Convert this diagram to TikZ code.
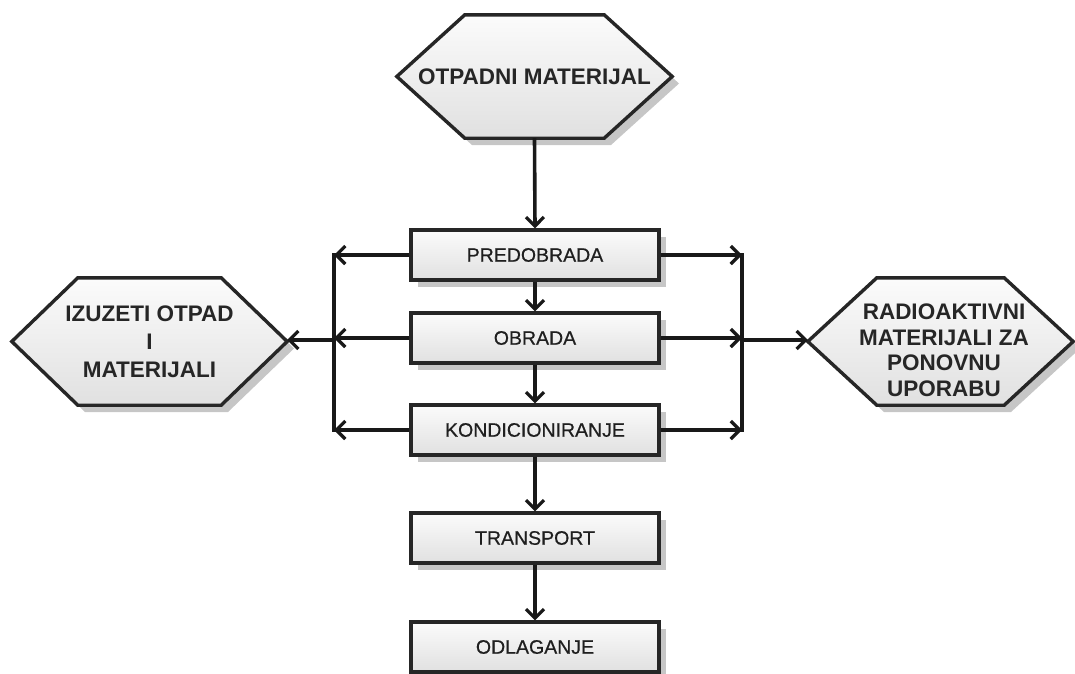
\documentclass[tikz,border=0pt]{standalone}
\usepackage{fontspec}
\setmainfont{Liberation Sans}
\newfontfamily\boxfont{Liberation Sans}[FakeBold=0.6]
\usetikzlibrary{arrows.meta,shadows,backgrounds}
\begin{document}
\begin{tikzpicture}[x=1pt,y=-1pt,
 boxst/.style={draw=black!85, line width=3.4pt, minimum width=248pt, minimum height=50pt,
   top color=gray!3, bottom color=gray!24,
   drop shadow={shadow xshift=7pt, shadow yshift=-7pt, fill=gray!45, opacity=1},
   font=\boxfont\fontsize{19.5}{22}\selectfont, text=black!88, inner sep=0pt},
 hexlab/.style={inner sep=0pt, font=\bfseries\fontsize{22.5}{28}\selectfont, align=center, text=black!85},
 hexline/.style={draw=black!85, line width=3.4pt, top color=gray!3, bottom color=gray!24},
 hexshadow/.style={fill=gray!45, draw=none},
 conn/.style={draw=black!90, line width=3.6pt},
 arr/.style={conn, -{Straight Barb[length=9pt,width=18pt,line width=3.2pt]}}
]
\useasboundingbox (0,0) rectangle (1075,673);

% nodes
\node[hexlab, minimum width=275pt, minimum height=123pt] (otp) at (534.5,76.5) {OTPADNI MATERIJAL};
\node[hexlab, minimum width=275pt, minimum height=127pt] (izu) at (149.5,341.5) {IZUZETI OTPAD\\I\\MATERIJALI};
\node[minimum width=265pt, minimum height=127pt, inner sep=0pt] (rad) at (940.5,341.5) {};
\node[hexlab, font=\bfseries\fontsize{22.5}{25.5}\selectfont] (radt) at (944,350) {RADIOAKTIVNI\\MATERIJALI ZA\\PONOVNU\\UPORABU};

\node[boxst] (pre) at (535,255) {PREDOBRADA};
\node[boxst] (obr) at (535,338) {OBRADA};
\node[boxst] (kon) at (535,430) {KONDICIONIRANJE};
\node[boxst] (tra) at (535,538) {TRANSPORT};
\node[boxst] (odl) at (535,647) {ODLAGANJE};

% hexagons on background
\begin{scope}[on background layer]
 \fill[hexshadow, xshift=7pt, yshift=-7pt] (397,76.5) -- (465,15) -- (604,15) -- (672,76.5) -- (604,138) -- (465,138) -- cycle;
 \path[hexline] (otp.west) -- ([xshift=68pt]otp.north west) -- ([xshift=-68pt]otp.north east) -- (otp.east) -- ([xshift=-68pt]otp.south east) -- ([xshift=68pt]otp.south west) -- cycle;
 \fill[hexshadow, xshift=7pt, yshift=-7pt] (12,341.5) -- (78,278) -- (221,278) -- (287,341.5) -- (221,405) -- (78,405) -- cycle;
 \path[hexline] (izu.west) -- ([xshift=66pt]izu.north west) -- ([xshift=-66pt]izu.north east) -- (izu.east) -- ([xshift=-66pt]izu.south east) -- ([xshift=66pt]izu.south west) -- cycle;
 \fill[hexshadow, xshift=7pt, yshift=-7pt] (808,341.5) -- (877,278) -- (1004,278) -- (1073,341.5) -- (1004,405) -- (877,405) -- cycle;
 \path[hexline] (rad.west) -- ([xshift=69pt]rad.north west) -- ([xshift=-69pt]rad.north east) -- (rad.east) -- ([xshift=-69pt]rad.south east) -- ([xshift=69pt]rad.south west) -- cycle;
\end{scope}

% bus coordinates
\coordinate (Lt) at (334,255);
\coordinate (Lb) at (334,430);
\coordinate (Lm) at (334,340);
\coordinate (Rt) at (742,255);
\coordinate (Rb) at (742,430);
\coordinate (Rm) at (742,340);

% main chain
\draw[arr] (otp.south) -- (pre.north);
\draw[arr] (pre.south) -- (obr.north);
\draw[arr] (obr.south) -- (kon.north);
\draw[arr] (kon.south) -- (tra.north);
\draw[arr] (tra.south) -- (odl.north);

% buses
\draw[conn, line cap=rect] (Lt) -- (Lb);
\draw[conn, line cap=rect] (Rt) -- (Rb);
\draw[arr] (pre.west) -- (pre.west -| Lt);
\draw[arr] (obr.west) -- (obr.west -| Lt);
\draw[arr] (kon.west) -- (kon.west -| Lt);
\draw[arr] (pre.east) -- (pre.east -| Rt);
\draw[arr] (obr.east) -- (obr.east -| Rt);
\draw[arr] (kon.east) -- (kon.east -| Rt);
\draw[arr] (Lm) -- (Lm -| izu.east);
\draw[arr] (Rm) -- (Rm -| rad.west);
\end{tikzpicture}
\end{document}
